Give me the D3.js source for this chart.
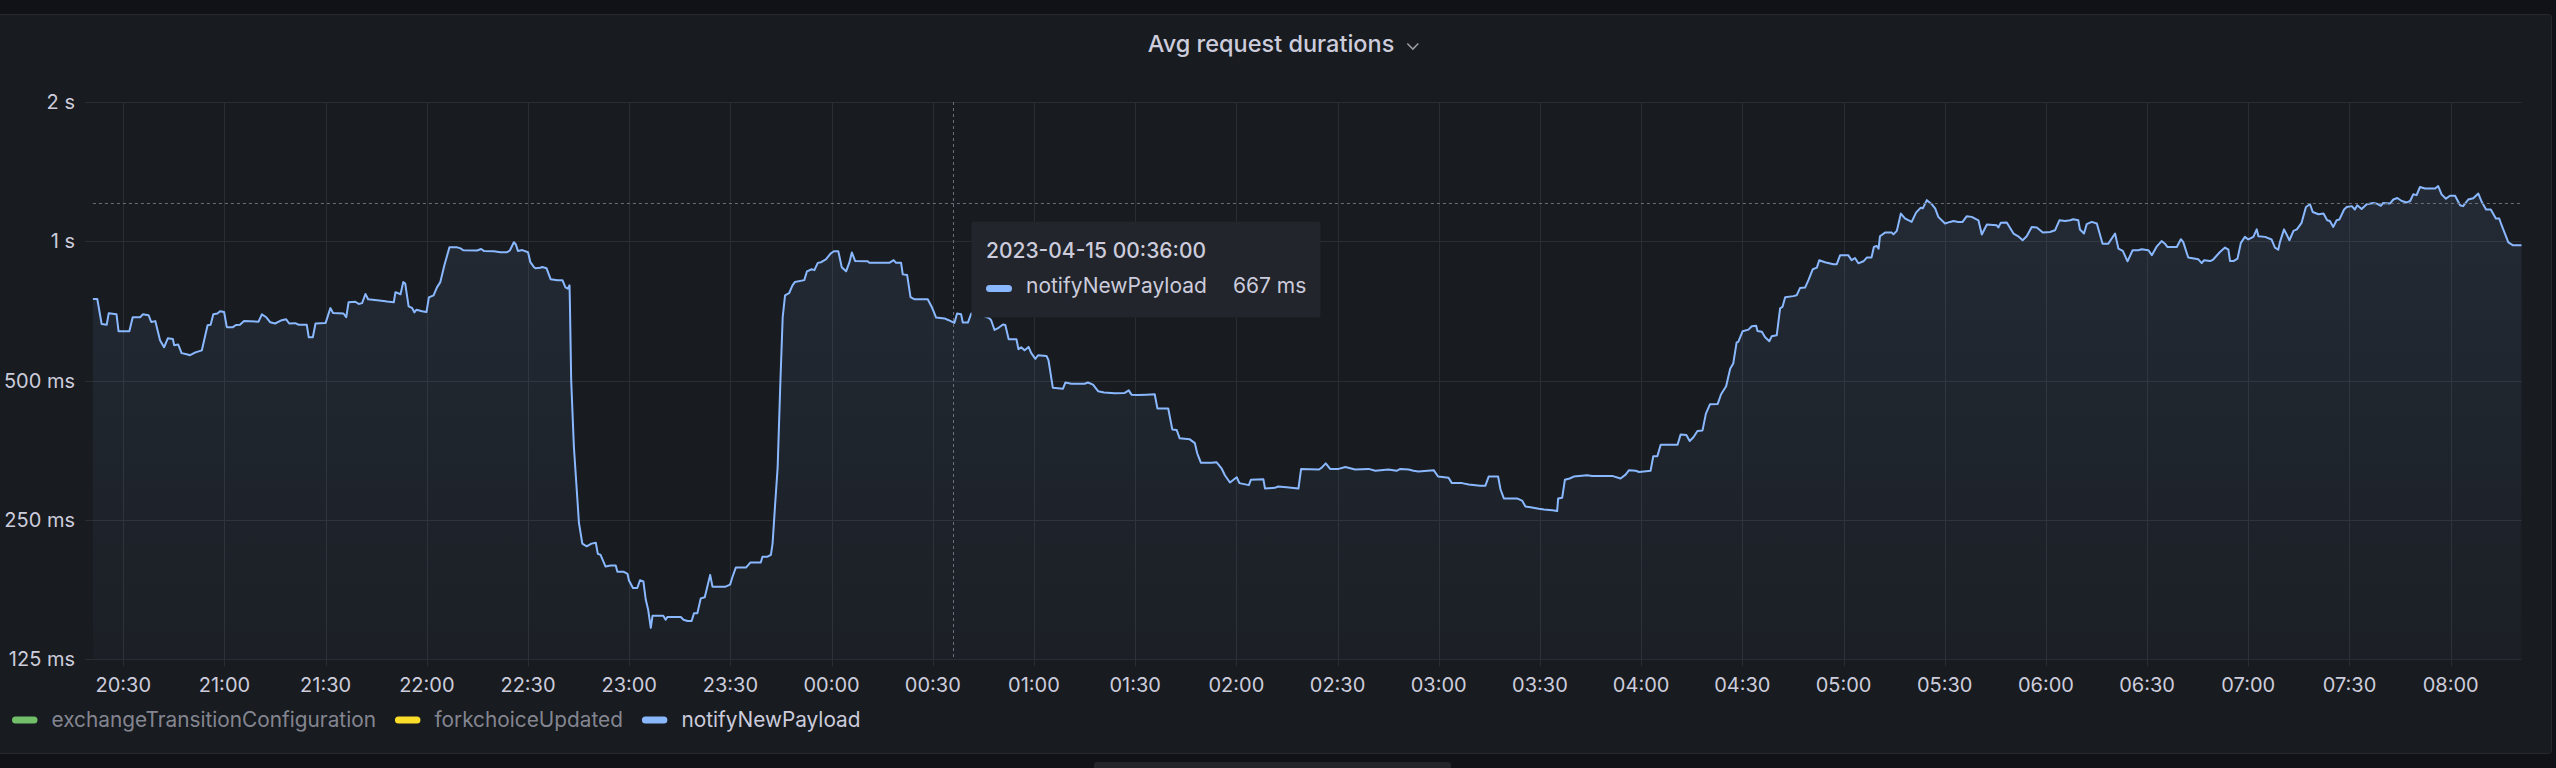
<!DOCTYPE html>
<html>
<head>
<meta charset="utf-8">
<script src="https://cdn.jsdelivr.net/npm/d3@7"></script>
<style>
  html, body { margin: 0; padding: 0; background: #111217; }
  svg { display: block; font-family: Inter, "Noto Sans", sans-serif; }
</style>
</head>
<body>
<svg id="chart" width="2556" height="768"></svg>
<script>
// ---- data ----
const seriesNames = ['exchangeTransitionConfiguration', 'forkchoiceUpdated', 'notifyNewPayload'];
const hiddenSeries = ['exchangeTransitionConfiguration', 'forkchoiceUpdated'];
const startTime = new Date(2023, 3, 14, 20, 21, 0);
const rangeMinutes = 720;

// minutes after 20:21 and the matching avg duration of notifyNewPayload (ms)
const minutesFromStart = [
  0, 1.3, 2.6, 4.1, 4.7, 7.0, 7.6, 10.8, 11.8, 14.0, 14.8, 16.5, 17.3, 18.5, 19.9, 21.1, 22.2, 23.7, 24.1, 25.3,
  26.3, 27.8, 28.8, 30.4, 32.3, 34.0, 34.9, 35.7, 36.9, 37.7, 38.9, 39.7, 41.5, 42.4, 43.6, 44.8, 49.1, 50.1, 51.4, 52.6,
  54.0, 56.0, 57.3, 58.2, 60.0, 61.0, 63.4, 64.0, 65.2, 66.0, 69.0, 70.4, 71.2, 74.3, 75.1, 75.8, 77.8, 78.8, 79.8, 80.8,
  81.6, 86.2, 87.2, 89.2, 89.7, 91.2, 92.0, 92.6, 93.6, 94.6, 95.3, 95.9, 97.6, 98.9, 99.6, 101.0, 102.0, 103.0, 104.2, 105.7,
  108.0, 109.0, 109.8, 113.9, 115.1, 115.9, 118.9, 120.8, 122.8, 123.6, 124.8, 125.4, 126.0, 127.3, 129.0, 129.7, 130.7, 131.2, 132.7, 133.2,
  134.5, 135.7, 137.7, 139.2, 140.1, 140.8, 141.3, 141.4, 141.8, 142.6, 144.1, 145.1, 146.4, 147.8, 149.1, 149.7, 150.5, 152.0, 153.5, 155.0,
  155.5, 157.3, 158.5, 158.9, 160.1, 161.4, 162.2, 163.2, 163.9, 164.6, 165.4, 165.9, 167.4, 169.1, 169.8, 170.3, 174.3, 175.1, 176.3, 177.5,
  178.2, 179.2, 180.2, 181.4, 183.0, 183.7, 187.4, 188.9, 189.6, 190.6, 193.6, 194.9, 198.0, 198.5, 200.0, 201.0, 201.5, 202.2, 203.0, 203.8,
  204.5, 205.2, 206.4, 207.4, 208.1, 210.9, 211.7, 213.1, 213.9, 214.9, 215.9, 217.3, 218.8, 219.8, 221.0, 222.0, 223.3, 224.3, 225.0, 226.0,
  229.7, 230.2, 236.1, 237.4, 238.1, 239.6, 240.1, 241.4, 242.4, 243.6, 245.5, 247.5, 248.7, 250.0, 252.5, 253.7, 255.4, 256.2, 257.4, 257.9,
  259.4, 260.4, 262.0, 264.0, 265.8, 266.3, 267.3, 268.5, 269.8, 270.5, 271.5, 273.8, 274.4, 275.2, 276.2, 277.4, 278.2, 279.4, 280.2, 282.7,
  283.3, 284.6, 287.6, 288.3, 290.1, 294.0, 295.0, 296.5, 298.0, 299.8, 302.9, 305.9, 307.1, 307.9, 309.9, 312.4, 314.8, 315.6, 318.8, 320.0,
  321.3, 322.2, 325.2, 326.7, 327.4, 328.5, 331.7, 333.1, 334.6, 335.6, 337.1, 339.1, 339.9, 342.7, 343.3, 347.0, 347.5, 350.4, 351.4, 353.9,
  357.4, 358.2, 363.5, 364.3, 365.5, 366.8, 369.3, 371.3, 374.2, 378.2, 380.2, 384.1, 386.5, 387.6, 390.1, 391.5, 393.0, 397.5, 398.8, 401.9,
  402.9, 405.9, 407.9, 411.3, 412.8, 413.8, 416.6, 417.3, 418.3, 422.2, 423.7, 424.7, 426.2, 428.7, 430.2, 432.7, 434.1, 434.4, 435.6, 436.4,
  437.8, 439.0, 443.0, 444.5, 448.4, 450.4, 452.9, 454.4, 455.4, 457.4, 458.4, 461.8, 462.6, 463.8, 464.8, 469.8, 470.7, 472.4, 473.4, 474.5,
  475.7, 477.2, 478.2, 479.4, 481.7, 482.7, 484.2, 485.4, 486.3, 487.3, 487.8, 489.1, 490.8, 491.8, 493.1, 493.5, 494.8, 495.7, 497.0, 497.7,
  499.2, 500.2, 500.9, 501.7, 504.1, 505.1, 506.1, 507.6, 508.6, 509.9, 511.1, 511.8, 513.5, 516.0, 517.0, 518.0, 520.4, 521.4, 522.4, 523.4,
  524.9, 525.9, 527.3, 528.0, 528.8, 529.4, 529.8, 531.3, 533.3, 533.8, 534.8, 536.0, 537.2, 539.2, 540.5, 541.9, 542.5, 543.7, 545.2, 546.2,
  547.1, 549.1, 550.6, 551.6, 553.0, 554.3, 555.5, 557.0, 559.0, 560.0, 561.5, 564.4, 564.9, 565.6, 567.4, 569.4, 570.8, 572.1, 573.3, 574.8,
  576.3, 578.1, 580.2, 581.7, 583.0, 584.7, 586.2, 587.1, 588.6, 589.1, 590.3, 591.1, 592.6, 594.1, 595.8, 597.5, 599.5, 600.5, 601.8, 603.2,
  604.7, 606.4, 607.4, 609.4, 610.4, 611.9, 613.3, 614.3, 615.0, 617.8, 619.0, 619.7, 621.2, 624.2, 625.2, 625.9, 627.7, 628.6, 630.6, 632.1,
  633.1, 633.6, 634.6, 635.8, 636.8, 638.0, 639.0, 640.5, 641.5, 642.0, 644.0, 645.9, 646.9, 647.9, 648.4, 649.6, 651.2, 652.4, 653.4, 654.8,
  656.1, 657.3, 658.1, 659.8, 661.3, 662.4, 663.2, 664.2, 665.2, 666.0, 667.4, 668.2, 669.7, 670.6, 671.3, 672.6, 674.1, 676.1, 677.1, 678.3,
  679.0, 681.0, 682.0, 683.2, 684.5, 686.0, 687.0, 687.9, 688.9, 689.9, 691.4, 694.4, 695.3, 696.3, 697.6, 698.8, 700.3, 701.8, 702.7, 704.2,
  705.7, 707.2, 708.2, 709.5, 710.9, 712.4, 713.4, 714.1, 716.1, 717.5, 720.0
];
const notifyNewPayloadMs = [
  750, 750, 662, 660, 699, 695, 639, 639, 685, 685, 695, 692, 669, 672, 611, 590, 617, 615, 596, 598,
  573, 570, 567, 575, 581, 658, 660, 695, 698, 706, 703, 652, 652, 659, 660, 672, 670, 695, 685, 668,
  664, 675, 678, 664, 665, 660, 660, 620, 620, 664, 666, 717, 700, 698, 685, 738, 740, 732, 735, 769,
  749, 743, 741, 738, 776, 768, 816, 810, 723, 718, 702, 711, 706, 703, 756, 764, 795, 816, 887, 970,
  970, 965, 956, 955, 962, 953, 951, 947, 947, 955, 995, 984, 953, 957, 947, 901, 880, 874, 876, 880,
  874, 828, 824, 824, 795, 790, 803, 746, 500, 359, 246, 222, 219, 222, 223, 211, 210, 198, 199, 199,
  193, 193, 191, 185, 178, 178, 185, 184, 168, 160, 146, 155, 155, 155, 152, 154, 154, 152, 151, 151,
  157, 157, 169, 170, 190, 179, 179, 181, 188, 197, 197, 202, 202, 208, 208, 210, 222, 266, 324, 493,
  685, 764, 772, 803, 816, 824, 861, 870, 866, 898, 901, 914, 942, 952, 951, 879, 861, 901, 946, 906,
  905, 898, 898, 910, 898, 898, 848, 845, 757, 749, 749, 749, 721, 684, 681, 675, 666, 698, 695, 667,
  667, 698, 692, 690, 681, 675, 643, 650, 661, 659, 614, 614, 584, 590, 581, 591, 573, 557, 567, 565,
  553, 482, 480, 495, 492, 492, 495, 490, 474, 471, 469, 470, 476, 466, 465, 466, 467, 435, 435, 392,
  391, 375, 373, 366, 348, 332, 332, 333, 323, 312, 301, 309, 300, 297, 305, 306, 292, 293, 295, 294,
  292, 322, 321, 324, 331, 322, 322, 325, 321, 322, 319, 321, 319, 322, 321, 319, 318, 320, 310, 308,
  300, 300, 298, 296, 296, 310, 310, 291, 278, 278, 275, 267, 266, 264, 263, 262, 261, 278, 279, 305,
  307, 310, 312, 311, 311, 311, 307, 313, 320, 319, 317, 319, 343, 343, 363, 363, 382, 381, 370, 377,
  389, 390, 424, 444, 445, 467, 486, 530, 544, 604, 606, 639, 644, 655, 657, 640, 637, 621, 608, 623,
  626, 716, 721, 757, 761, 764, 792, 794, 824, 870, 877, 910, 901, 892, 892, 933, 933, 910, 920, 896,
  905, 922, 922, 972, 977, 964, 1025, 1044, 1044, 1035, 1053, 1148, 1120, 1101, 1153, 1182, 1178, 1227, 1202, 1176,
  1129, 1092, 1101, 1106, 1101, 1101, 1132, 1129, 1110, 1034, 1087, 1083, 1071, 1096, 1098, 1039, 1025, 1005, 1025, 1074,
  1071, 1044, 1047, 1056, 1110, 1106, 1110, 1116, 1110, 1060, 1039, 1089, 1101, 1092, 988, 988, 1039, 964, 953, 905,
  956, 956, 961, 956, 933, 975, 1001, 988, 972, 972, 1010, 997, 922, 914, 897, 910, 906, 913, 948, 969,
  959, 906, 906, 917, 992, 1022, 1009, 1022, 1061, 1025, 1022, 1009, 969, 959, 997, 1061, 1005, 1053, 1061, 1096,
  1186, 1202, 1157, 1144, 1148, 1110, 1106, 1074, 1110, 1114, 1171, 1186, 1191, 1171, 1196, 1174, 1202, 1210, 1206, 1193,
  1210, 1206, 1231, 1240, 1222, 1213, 1222, 1263, 1258, 1310, 1300, 1300, 1316, 1263, 1236, 1254, 1254, 1196, 1191, 1231,
  1239, 1268, 1217, 1171, 1171, 1120, 1120, 1083, 994, 980, 980
];

const yTickValues = [125, 250, 500, 1000, 2000];
const hoverMinute = 255;          // 00:36
const hoverValueMs = 1210;        // height of the horizontal crosshair
const tooltipTime = '2023-04-15 00:36:00';
const tooltipValue = '667 ms';
const panelTitle = 'Avg request durations';

// ---- layout ----
const W = 2556, H = 768;
const plot = { left: 92.9, right: 2521.5, top: 102, bottom: 659 };
const colors = { exchangeTransitionConfiguration: '#73bf69', forkchoiceUpdated: '#fade2a', notifyNewPayload: '#8ab8ff' };
const textColor = '#ccccdc';
const dimText = 'rgba(204,204,220,0.62)';
const gridColor = '#2a2d32';

const svg = d3.select('#chart');

const data = minutesFromStart.map((m, i) => ({
  t: startTime.getTime() + m * 60000,
  v: notifyNewPayloadMs[i]
}));

const x = d3.scaleTime()
  .domain([startTime, new Date(startTime.getTime() + rangeMinutes * 60000)])
  .range([plot.left, plot.right]);
const y = d3.scaleLog().base(2)
  .domain([125, 2000])
  .range([plot.bottom, plot.top]);

// panel
svg.append('rect')
  .attr('x', -3).attr('y', 14.5)
  .attr('width', 2554.5).attr('height', 739)
  .attr('rx', 3)
  .attr('fill', '#181b1f')
  .attr('stroke', '#25282d');

// strip of the next panel at the very bottom
svg.append('rect')
  .attr('x', 1094).attr('y', 762).attr('width', 357).attr('height', 12)
  .attr('rx', 3).attr('fill', '#22252a');

// title + chevron
const title = svg.append('text')
  .attr('x', 1271).attr('y', 52)
  .attr('text-anchor', 'middle')
  .attr('font-size', 23.5).attr('font-weight', 500)
  .attr('fill', textColor)
  .text(panelTitle);
const titleEnd = 1271 + title.node().getComputedTextLength() / 2;
svg.append('path')
  .attr('d', `M${titleEnd + 13},${43.5} l5.5,5.5 l5.5,-5.5`)
  .attr('fill', 'none').attr('stroke', '#9a9ba4').attr('stroke-width', 1.6);

// grid
const xTicks = x.ticks(d3.timeMinute.every(30));
svg.append('g')
  .selectAll('line')
  .data(xTicks)
  .join('line')
  .attr('x1', d => Math.round(x(d)) + 0.5).attr('x2', d => Math.round(x(d)) + 0.5)
  .attr('y1', plot.top).attr('y2', plot.bottom + 7)
  .attr('stroke', gridColor);

svg.append('g')
  .selectAll('line')
  .data(yTickValues)
  .join('line')
  .attr('x1', 85).attr('x2', plot.right)
  .attr('y1', d => Math.round(y(d)) + 0.5).attr('y2', d => Math.round(y(d)) + 0.5)
  .attr('stroke', gridColor);

// axes labels
const yFormat = v => v >= 1000 ? (v / 1000) + ' s' : v + ' ms';
svg.append('g')
  .selectAll('text')
  .data(yTickValues)
  .join('text')
  .attr('x', 75).attr('y', d => y(d))
  .attr('dy', '0.36em')
  .attr('text-anchor', 'end')
  .attr('font-size', 20)
  .attr('fill', textColor)
  .text(yFormat);

svg.append('g')
  .selectAll('text')
  .data(xTicks)
  .join('text')
  .attr('x', d => x(d)).attr('y', 691.5)
  .attr('text-anchor', 'middle')
  .attr('font-size', 20)
  .attr('fill', textColor)
  .text(d3.timeFormat('%H:%M'));

// series
const defs = svg.append('defs');
const grad = defs.append('linearGradient')
  .attr('id', 'fillGrad')
  .attr('gradientUnits', 'userSpaceOnUse')
  .attr('x1', 0).attr('x2', 0)
  .attr('y1', plot.top).attr('y2', plot.bottom);
grad.append('stop').attr('offset', 0).attr('stop-color', colors.notifyNewPayload).attr('stop-opacity', 0.11);
grad.append('stop').attr('offset', 1).attr('stop-color', colors.notifyNewPayload).attr('stop-opacity', 0.03);

const area = d3.area()
  .x(d => x(d.t))
  .y0(plot.bottom)
  .y1(d => y(d.v));
const line = d3.line()
  .x(d => x(d.t))
  .y(d => y(d.v));

svg.append('path')
  .datum(data)
  .attr('d', area)
  .attr('fill', 'url(#fillGrad)');

svg.append('path')
  .datum(data)
  .attr('d', line)
  .attr('fill', 'none')
  .attr('stroke', colors.notifyNewPayload)
  .attr('stroke-width', 2)
  .attr('stroke-linejoin', 'round');

// crosshair
const hoverX = Math.round(x(new Date(startTime.getTime() + hoverMinute * 60000))) + 0.5;
const hoverY = Math.round(y(hoverValueMs)) + 0.5;
svg.append('line')
  .attr('x1', hoverX).attr('x2', hoverX)
  .attr('y1', plot.top).attr('y2', plot.bottom)
  .attr('stroke', '#6a6e78').attr('stroke-dasharray', '3,3');
svg.append('line')
  .attr('x1', plot.left).attr('x2', plot.right)
  .attr('y1', hoverY).attr('y2', hoverY)
  .attr('stroke', '#6a6e78').attr('stroke-dasharray', '3,3');

// tooltip
const tip = svg.append('g').attr('transform', 'translate(971.5,221.5)');
tip.append('rect')
  .attr('width', 349).attr('height', 96).attr('rx', 3)
  .attr('fill', '#22252b');
tip.append('text')
  .attr('x', 14.5).attr('y', 36.5)
  .attr('font-size', 21).attr('font-weight', 500)
  .attr('fill', textColor)
  .text(tooltipTime);
tip.append('rect')
  .attr('x', 14.5).attr('y', 63.5).attr('width', 26).attr('height', 7).attr('rx', 3.5)
  .attr('fill', colors.notifyNewPayload);
tip.append('text')
  .attr('x', 54.5).attr('y', 71)
  .attr('font-size', 21)
  .attr('fill', textColor)
  .text('notifyNewPayload');
tip.append('text')
  .attr('x', 261.5).attr('y', 71)
  .attr('font-size', 21)
  .attr('fill', textColor)
  .text(tooltipValue);

// legend
let lx = 12;
seriesNames.forEach(name => {
  const hidden = hiddenSeries.includes(name);
  svg.append('rect')
    .attr('x', lx).attr('y', 716.5).attr('width', 25.5).attr('height', 7).attr('rx', 3.5)
    .attr('fill', colors[name]);
  const t = svg.append('text')
    .attr('x', lx + 39.5).attr('y', 727)
    .attr('font-size', 20.8)
    .attr('fill', hidden ? dimText : textColor)
    .text(name);
  lx += 39.5 + t.node().getComputedTextLength() + 19;
});
</script>
</body>
</html>
